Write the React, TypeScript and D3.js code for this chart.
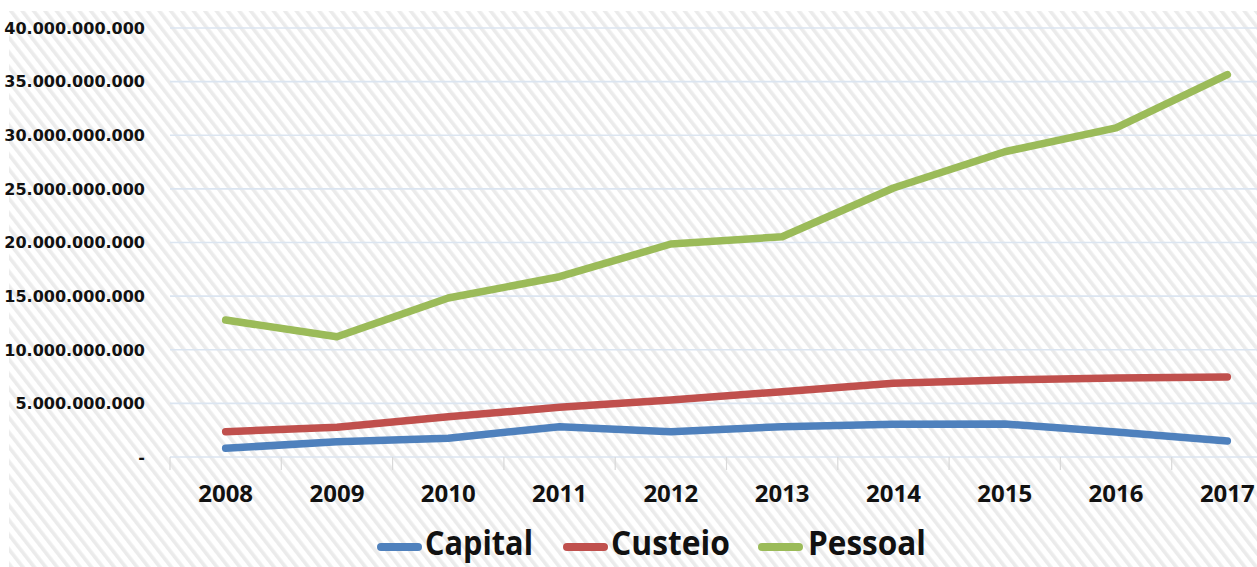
import React from "react";
import * as d3 from "d3";

const years = ["2008", "2009", "2010", "2011", "2012", "2013", "2014", "2015", "2016", "2017"];
const capital = [0.81e9, 1.43e9, 1.74e9, 2.83e9, 2.36e9, 2.83e9, 3.05e9, 3.08e9, 2.33e9, 1.49e9];
const custeio = [2.36e9, 2.77e9, 3.76e9, 4.63e9, 5.31e9, 6.09e9, 6.87e9, 7.18e9, 7.37e9, 7.46e9];
const pessoal = [12.77e9, 11.21e9, 14.82e9, 16.81e9, 19.86e9, 20.54e9, 25.08e9, 28.46e9, 30.68e9, 35.66e9];
const yTicks = [0, 5e9, 10e9, 15e9, 20e9, 25e9, 30e9, 35e9, 40e9];
const seriesNames = ["Capital", "Custeio", "Pessoal"];
const seriesColors = ["#4F81BD", "#C0504D", "#9BBB59"];

const W = 1257;
const H = 567;

export default function App() {
  const series = [capital, custeio, pessoal];
  const x = d3.scaleBand<string>().domain(years).range([170, 170 + 111.3 * years.length]);
  const y = d3.scaleLinear().domain([0, 40e9]).range([457, 28]);
  const line = d3
    .line<number>()
    .x((_, i) => (x(years[i]) as number) + x.bandwidth() / 2)
    .y((d) => y(d));
  const fmt = (v: number) =>
    v === 0 ? "-" : d3.format(",")(v).replace(/,/g, ".");

  // legend layout
  const legendStart = 377;
  const lineLen = 45;
  const textWidths = [108, 119, 118];
  const gaps = [3, 3, 5];
  const itemGap = [30, 28, 0];
  let cursor = legendStart;
  const legendItems = seriesNames.map((name, i) => {
    const lx = cursor;
    const tx = lx + lineLen + gaps[i];
    cursor = tx + textWidths[i] + itemGap[i];
    return { name, color: seriesColors[i], lx, tx, tw: textWidths[i] };
  });

  return (
    <svg
      width={W}
      height={H}
      style={{ position: "absolute", left: 0, top: 0, display: "block" }}
    >
      <defs>
        <pattern
          id="hatch"
          width="9"
          height="9"
          patternUnits="userSpaceOnUse"
          patternTransform="rotate(-38)"
        >
          <rect width="9" height="9" fill="#ffffff" />
          <rect width="3.6" height="9" fill="#ebebeb" />
        </pattern>
      </defs>
      <rect x={0} y={0} width={W} height={H} fill="#ffffff" />
      <rect x={9} y={11} width={W - 9} height={H - 11} fill="url(#hatch)" />

      {/* gridlines */}
      {yTicks.map((t) => (
        <line
          key={"g" + t}
          x1={170}
          x2={W}
          y1={y(t)}
          y2={y(t)}
          stroke="#dbe5f1"
          strokeWidth={1.6}
        />
      ))}
      {/* x tick marks */}
      {years.map((yr) => (
        <line
          key={"t" + yr}
          x1={x(yr) as number}
          x2={x(yr) as number}
          y1={457}
          y2={470}
          stroke="#d9d9d9"
          strokeWidth={1.2}
        />
      ))}

      {/* y labels */}
      {yTicks.map((t) => (
        <text
          key={"yl" + t}
          x={145}
          y={y(t)}
          dy="0.36em"
          textAnchor="end"
          fontFamily="DejaVu Sans"
          fontWeight="bold"
          fontSize={16}
          fill="#111"
        >
          {fmt(t)}
        </text>
      ))}

      {/* x labels */}
      {years.map((yr) => (
        <text
          key={"xl" + yr}
          x={(x(yr) as number) + x.bandwidth() / 2}
          y={502}
          textAnchor="middle"
          fontFamily="Open Sans"
          fontWeight="bold"
          fontSize={24}
          fill="#111"
        >
          {yr}
        </text>
      ))}

      {/* series lines */}
      {series.map((s, i) => (
        <path
          key={"s" + i}
          d={line(s) || ""}
          fill="none"
          stroke={seriesColors[i]}
          strokeWidth={7.5}
          strokeLinecap="round"
          strokeLinejoin="round"
        />
      ))}

      {/* legend */}
      {legendItems.map((it) => (
        <g key={"lg" + it.name}>
          <line
            x1={it.lx + 4}
            x2={it.lx + lineLen - 4}
            y1={547}
            y2={547}
            stroke={it.color}
            strokeWidth={8}
            strokeLinecap="round"
          />
          <text
            x={it.tx}
            y={555}
            fontFamily="Open Sans"
            fontWeight="bold"
            fontSize={34}
            textLength={it.tw}
            lengthAdjust="spacingAndGlyphs"
            fill="#111"
          >
            {it.name}
          </text>
        </g>
      ))}
    </svg>
  );
}
